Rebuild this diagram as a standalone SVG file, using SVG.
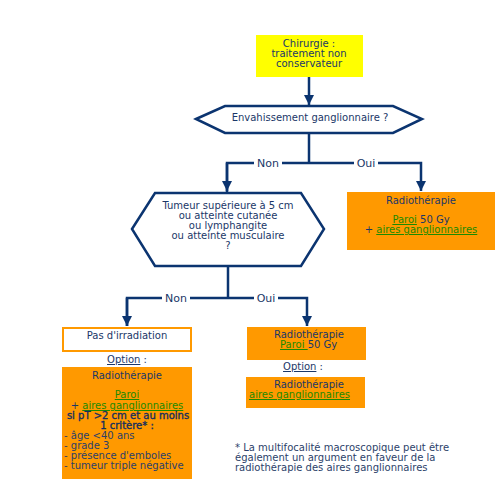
<svg xmlns="http://www.w3.org/2000/svg" width="500" height="500" viewBox="0 0 500 500">
<style>
text{font-family:"DejaVu Sans","Liberation Sans",sans-serif;font-size:10px;fill:#1a3768}
.c{text-anchor:middle}
.g{fill:#1c8a00;text-decoration:underline}
.u{text-decoration:underline}
.b{fill:#142e5e;stroke:#142e5e;stroke-width:0.35}
.lbl{font-size:11px}
.line{fill:none;stroke:#0b3470;stroke-width:2.5}
.or{fill:#ff9900}
.li{fill:#2c3f6a}
</style>
<defs>
<marker id="ah" markerUnits="userSpaceOnUse" markerWidth="12" markerHeight="10" refX="10" refY="5" orient="auto">
<path d="M0,0 L10,5 L0,10 z" fill="#0b3470"/>
</marker>
</defs>
<rect width="500" height="500" fill="#fff"/>
<g id="connectors">
<path class="line" d="M309,77 V105" marker-end="url(#ah)"/>
<path class="line" d="M309,133 V163"/>
<path class="line" d="M227,192 V163 H421 V191" marker-end="url(#ah)"/>
<path class="line" d="M227,163 V191" marker-end="url(#ah)"/>
<path class="line" d="M228,266 V298"/>
<path class="line" d="M127,326 V298 H307 V326" marker-end="url(#ah)"/>
<path class="line" d="M127,298 V326" marker-end="url(#ah)"/>
<rect x="254" y="156" width="28" height="14" fill="#fff"/>
<text class="c lbl" x="268" y="167">Non</text>
<rect x="354" y="156" width="24" height="14" fill="#fff"/>
<text class="c lbl" x="366" y="167">Oui</text>
<rect x="162" y="291" width="28" height="14" fill="#fff"/>
<text class="c lbl" x="176" y="302">Non</text>
<rect x="254" y="291" width="24" height="14" fill="#fff"/>
<text class="c lbl" x="266" y="302">Oui</text>
</g>
<g id="chirurgie">
<rect x="256" y="35" width="107" height="42" fill="#ffff00"/>
<text class="c" x="309" y="47">Chirurgie :</text>
<text class="c" x="309" y="57">traitement non</text>
<text class="c" x="309" y="67">conservateur</text>
</g>
<g id="envahissement">
<polygon class="line" fill="#fff" points="196,119 225,106 393,106 422,119 393,133 225,133"/>
<text class="c" x="310" y="121">Envahissement ganglionnaire ?</text>
</g>
<g id="tumeur">
<polygon class="line" fill="#fff" points="132,229 155,193 301,193 324,229 301,266 155,266"/>
<text class="c" x="228" y="209">Tumeur supérieure à 5 cm</text>
<text class="c" x="228" y="219">ou atteinte cutanée</text>
<text class="c" x="228" y="229">ou lymphangite</text>
<text class="c" x="228" y="239">ou atteinte musculaire</text>
<text class="c" x="228" y="249">?</text>
</g>
<g id="radio-oui">
<rect class="or" x="347" y="192" width="148" height="58"/>
<text class="c" x="421" y="204">Radiothérapie</text>
<text class="c" x="421" y="223"><tspan class="g">Paroi</tspan> 50 Gy</text>
<text class="c" x="421" y="233">+ <tspan class="g">aires ganglionnaires</tspan></text>
</g>
<g id="pas-irradiation">
<rect x="63" y="328" width="128" height="23" fill="#fff" stroke="#ff9900" stroke-width="2"/>
<text class="c" x="127" y="339">Pas d'irradiation</text>
</g>
<g id="option1">
<text class="c" x="127" y="363"><tspan class="u">Option</tspan> :</text>
<rect class="or" x="62" y="367" width="130" height="112"/>
<text class="c" x="127" y="379">Radiothérapie</text>
<text class="c" x="127" y="398"><tspan class="g">Paroi </tspan></text>
<text class="c" x="127" y="409">+ <tspan class="g">aires ganglionnaires</tspan></text>
<text class="c b" x="128" y="419">si pT &gt;2 cm et au moins</text>
<text class="c b" x="127" y="429">1 critère* :</text>
<text class="li" x="64" y="439">- âge &lt;40 ans</text>
<text class="li" x="64" y="449">- grade 3</text>
<text class="li" x="64" y="459">- présence d'emboles</text>
<text class="li" x="64" y="469">- tumeur triple négative</text>
</g>
<g id="radio-paroi">
<rect class="or" x="247" y="327" width="119" height="33"/>
<text class="c" x="309" y="338">Radiothérapie</text>
<text x="280" y="348"><tspan class="g">Paroi </tspan>50 Gy</text>
</g>
<g id="option2">
<text class="c" x="303" y="370"><tspan class="u">Option</tspan> :</text>
<rect class="or" x="246" y="377" width="119" height="31"/>
<text class="c" x="309" y="388">Radiothérapie</text>
<text class="g" x="249" y="398">aires ganglionnaires</text>
</g>
<g id="footnote">
<text class="li" x="235" y="451">* La multifocalité macroscopique peut être</text>
<text class="li" x="235" y="461">également un argument en faveur de la</text>
<text class="li" x="235" y="471">radiothérapie des aires ganglionnaires</text>
</g>
</svg>
